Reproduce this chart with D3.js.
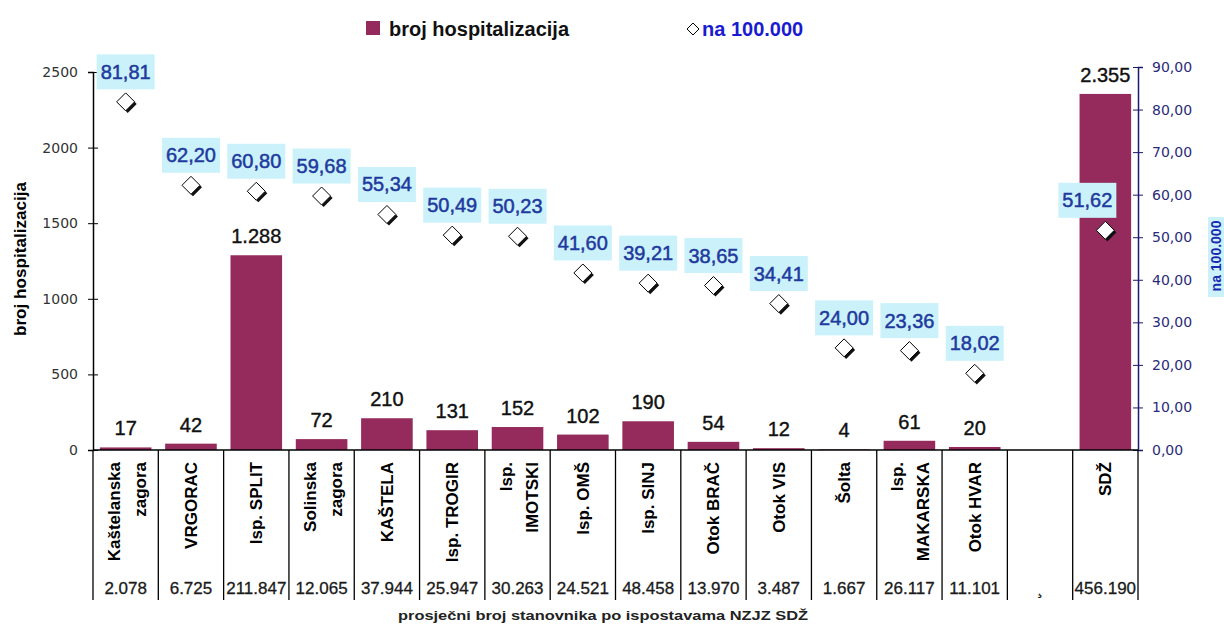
<!DOCTYPE html>
<html>
<head>
<meta charset="utf-8">
<script src="https://cdn.jsdelivr.net/npm/d3@7"></script>
<style>
  body { margin: 0; background: #fff; }
  text { font-family: "Liberation Sans", Arial, sans-serif; }
  .tick-l { font-family: "DejaVu Sans", Verdana, sans-serif; font-size: 14px; fill: #333; }
  .tick-r { font-family: "DejaVu Sans", Verdana, sans-serif; font-size: 14px; fill: #2b2b7a; }
</style>
</head>
<body>
<div id="chart"></div>
<script>
// categories (line breaks = "\n"), empty slot before the county total
var categories = ['Kaštelanska\nzagora', 'VRGORAC', 'Isp. SPLIT', 'Solinska\nzagora', 'KAŠTELA',
  'Isp. TROGIR', 'Isp.\nIMOTSKI', 'Isp. OMŠ', 'Isp. SINJ', 'Otok BRAČ', 'Otok VIS', 'Šolta',
  'Isp.\nMAKARSKA', 'Otok HVAR', '', 'SDŽ'];
// number of hospitalisations
var hospitalizations = [17, 42, 1288, 72, 210, 131, 152, 102, 190, 54, 12, 4, 61, 20, null, 2355];
// rate per 100.000 inhabitants
var ratePer100k = [81.81, 62.20, 60.80, 59.68, 55.34, 50.49, 50.23, 41.60, 39.21, 38.65, 34.41, 24.00,
  23.36, 18.02, null, 51.62];
// average population per branch (printed as in the table row)
var population = ['2.078', '6.725', '211.847', '12.065', '37.944', '25.947', '30.263', '24.521',
  '48.458', '13.970', '3.487', '1.667', '26.117', '11.101', '¸', '456.190'];
var leftTicks = [0, 500, 1000, 1500, 2000, 2500];
var rightTicks = [0, 10, 20, 30, 40, 50, 60, 70, 80, 90];

var W = 1224, H = 626;
var left = 93, right = 1138, base = 450;
var barColor = '#952b5c';

var hr = d3.formatLocale({decimal: ',', thousands: '.', grouping: [3], currency: ['', '']});
var fmtInt = hr.format(',d'), fmt2 = hr.format(',.2f');

var svg = d3.select('#chart').append('svg')
  .attr('width', W).attr('height', H)
  .style('background', '#fff');

var idx = categories.map(function(c, i) { return i; });
var x = d3.scaleBand().domain(idx).range([left, right]).padding(0);
var y = d3.scaleLinear().domain([0, 2500]).range([base, 72]);
var y2 = d3.scaleLinear().domain([0, 90]).range([base, 67]);
var bw = x.bandwidth() * 0.79;
var cx = function(i) { return x(i) + x.bandwidth() / 2; };

// bars
svg.append('g').selectAll('rect')
  .data(idx.filter(function(i) { return hospitalizations[i] != null; }))
  .enter().append('rect')
  .attr('x', function(i) { return cx(i) - bw / 2; })
  .attr('y', function(i) { return y(hospitalizations[i]); })
  .attr('width', bw)
  .attr('height', function(i) { return base - y(hospitalizations[i]); })
  .attr('fill', barColor);

// bar value labels
svg.append('g').selectAll('text')
  .data(idx.filter(function(i) { return hospitalizations[i] != null; }))
  .enter().append('text')
  .attr('x', cx)
  .attr('y', function(i) { return y(hospitalizations[i]) - 12; })
  .attr('text-anchor', 'middle')
  .attr('font-size', 20)
  .attr('fill', '#111')
  .attr('stroke', '#111').attr('stroke-width', 0.4)
  .text(function(i) { return fmtInt(hospitalizations[i]); });

// left axis
var gl = svg.append('g').attr('transform', 'translate(' + left + ',0)')
  .call(d3.axisLeft(y).tickValues(leftTicks).tickFormat(d3.format('d')).tickSizeOuter(0).tickSize(5).tickPadding(10));
gl.select('.domain').attr('stroke', '#000').attr('stroke-width', 1.5);
gl.selectAll('.tick line').attr('x2', 5).attr('x1', -5).attr('stroke', '#000');
gl.selectAll('.tick text').attr('class', 'tick-l').attr('x', -15).attr('font-size', null).attr('font-family', null);

// right axis
var gr = svg.append('g').attr('transform', 'translate(' + right + ',0)')
  .call(d3.axisRight(y2).tickValues(rightTicks).tickFormat(fmt2).tickSizeOuter(0).tickSize(5).tickPadding(10));
gr.select('.domain').attr('stroke', '#1a1a6e').attr('stroke-width', 1.5);
gr.selectAll('.tick line').attr('x1', -5).attr('x2', 5).attr('stroke', '#1a1a6e');
gr.selectAll('.tick text').attr('class', 'tick-r').attr('x', 14).attr('font-size', null).attr('font-family', null);

// category axis + table lines
svg.append('line').attr('x1', left).attr('x2', right).attr('y1', base).attr('y2', base)
  .attr('stroke', '#000').attr('stroke-width', 1.5);
var seps = idx.map(function(i) { return x(i); }).concat([right]);
svg.append('g').selectAll('line').data(seps).enter().append('line')
  .attr('x1', function(d) { return d; }).attr('x2', function(d) { return d; })
  .attr('y1', base).attr('y2', 600)
  .attr('stroke', '#000').attr('stroke-width', 1.3);

// category labels, rotated
var cat = svg.append('g').selectAll('text').data(idx).enter().append('text')
  .attr('transform', function(i) { return 'translate(' + cx(i) + ',462) rotate(-90)'; })
  .attr('text-anchor', 'end')
  .attr('font-size', 17)
  .attr('font-weight', 'bold')
  .attr('fill', '#000');
cat.each(function(i) {
  var lines = categories[i].split('\n');
  var t = d3.select(this);
  lines.forEach(function(l, k) {
    var off = lines.length === 1 ? 6 : (k === 0 ? -6 : 20);
    t.append('tspan').attr('x', 0).attr('y', off).text(l);
  });
});

// population row
svg.append('g').selectAll('text').data(idx).enter().append('text')
  .attr('x', cx).attr('y', 594)
  .attr('text-anchor', 'middle')
  .attr('font-size', 17)
  .attr('fill', '#1a1a1a')
  .attr('stroke', '#1a1a1a').attr('stroke-width', 0.3)
  .text(function(i) { return population[i]; });

// rate markers and labels
var pts = idx.filter(function(i) { return ratePer100k[i] != null; });
var diamond = function(r) { return 'M0,' + (-r) + 'L' + r + ',0L0,' + r + 'L' + (-r) + ',0Z'; };
var mk = svg.append('g').selectAll('g').data(pts).enter().append('g')
  .attr('transform', function(i) { return 'translate(' + cx(i) + ',' + y2(ratePer100k[i]) + ')'; });
mk.append('path').attr('d', diamond(9)).attr('fill', '#fff').attr('stroke', '#000').attr('stroke-width', 1);
mk.append('path').attr('d', 'M10,1L1,10').attr('stroke', '#111').attr('stroke-width', 3).attr('fill', 'none');

// SDŽ label is moved left of its marker to clear the right axis
var lblShift = function(i) { return i === categories.length - 1 ? -18 : 0; };
var lb = svg.append('g').selectAll('g').data(pts).enter().append('g')
  .attr('transform', function(i) { return 'translate(' + (cx(i) + lblShift(i)) + ',' + (y2(ratePer100k[i]) - 30) + ')'; });
lb.append('rect').attr('x', -29).attr('y', -17.5).attr('width', 58).attr('height', 35).attr('fill', '#cbf2fa');
lb.append('text').attr('y', 7).attr('text-anchor', 'middle').attr('font-size', 20)
  .attr('fill', '#1f3a9e')
  .attr('stroke', '#1f3a9e').attr('stroke-width', 0.5)
  .text(function(i) { return fmt2(ratePer100k[i]); });

// axis titles
svg.append('text')
  .attr('transform', 'translate(26,259) rotate(-90)')
  .attr('text-anchor', 'middle').attr('font-size', 17).attr('font-weight', 'bold')
  .attr('textLength', 154).attr('lengthAdjust', 'spacingAndGlyphs')
  .text('broj hospitalizacija');
svg.append('rect').attr('x', 1208).attr('y', 217).attr('width', 16).attr('height', 80).attr('fill', '#cbf2fa');
svg.append('text')
  .attr('transform', 'translate(1221,256) rotate(-90)')
  .attr('text-anchor', 'middle').attr('font-size', 14).attr('font-weight', 'bold')
  .attr('fill', '#1a2ab0')
  .text('na 100.000');
svg.append('text')
  .attr('x', 603).attr('y', 620)
  .attr('text-anchor', 'middle')
  .attr('font-family', '"DejaVu Sans", Verdana, sans-serif')
  .attr('font-size', 13).attr('font-weight', 'bold').attr('fill', '#222')
  .attr('textLength', 410).attr('lengthAdjust', 'spacingAndGlyphs')
  .text('prosječni broj stanovnika po ispostavama NZJZ SDŽ');

// legend
var lg = svg.append('g').attr('font-family', '"DejaVu Sans", Verdana, sans-serif')
  .attr('font-size', 20).attr('font-weight', 'bold');
lg.append('rect').attr('x', 366).attr('y', 21).attr('width', 14).attr('height', 14).attr('fill', barColor);
lg.append('text').attr('x', 389).attr('y', 36).attr('fill', '#111').text('broj hospitalizacija');
lg.append('path').attr('d', diamond(6)).attr('transform', 'translate(693,29)')
  .attr('fill', '#fff').attr('stroke', '#000').attr('stroke-width', 1);
lg.append('text').attr('x', 702).attr('y', 36).attr('fill', '#1a1ad0').text('na 100.000');
</script>
</body>
</html>
